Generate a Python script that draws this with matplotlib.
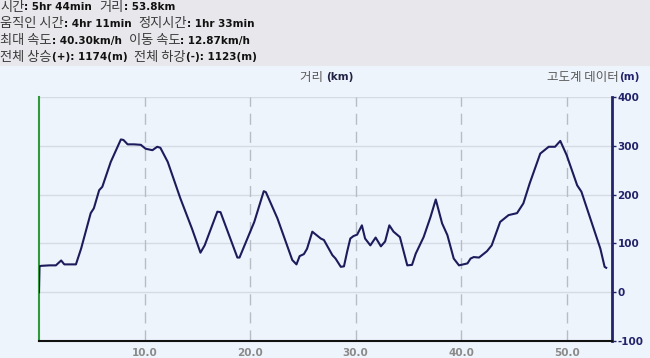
import matplotlib
matplotlib.use('Agg')
import matplotlib.pyplot as plt
import numpy as np

# elevation profile (km, m)
dist = [0.0, 0.05, 0.2, 1.0, 1.6, 2.1, 2.4, 3.5, 4.0, 4.9, 5.2, 5.7, 6.0, 6.8, 7.76, 8.0, 8.4,
        9.0, 9.65, 10.1, 10.75, 11.2, 11.5, 12.2, 13.4, 14.5, 15.3, 15.7, 16.9, 17.2, 18.8, 19.0,
        20.4, 21.3, 21.5, 22.6, 24.0, 24.4, 24.7, 25.1, 25.4, 25.9, 26.7, 27.0, 27.8, 28.1, 28.6,
        28.9, 29.2, 29.5, 29.8, 30.15, 30.6, 30.9, 31.4, 31.9, 32.4, 32.8, 33.2, 33.6, 34.2, 34.9,
        35.35, 35.7, 36.45, 37.1, 37.6, 38.2, 38.7, 39.3, 39.8, 40.6, 40.9, 41.2, 41.7, 42.45, 42.9,
        43.7, 44.5, 45.3, 45.9, 46.5, 47.5, 48.3, 48.9, 49.4, 50.0, 51.0, 51.4, 52.2, 53.2, 53.6, 53.75]
elev = [0, 53, 54, 55, 55, 65, 57, 57, 90, 162, 172, 209, 216, 267, 313, 312, 303,
        303, 302, 294, 291, 298, 296, 267, 192, 130, 81, 96, 165, 164, 71, 71,
        144, 207, 205, 151, 66, 57, 74, 78, 89, 124, 110, 107, 76, 69, 52,
        53, 83, 110, 115, 118, 137, 110, 96, 112, 94, 104, 137, 124, 113, 55,
        56, 79, 113, 154, 190, 141, 117, 69, 55, 59, 69, 72, 71, 84, 96,
        144, 158, 162, 182, 223, 284, 298, 298, 310, 281, 219, 206, 154, 89, 52, 50]

xticks = [10, 20, 30, 40, 50]
yticks = [-100, 0, 100, 200, 300, 400]

header = [
    [('시간', 'k'), (': 5hr 44min  ', 'v'), ('거리', 'k'), (': 53.8km', 'v')],
    [('움직인 시간', 'k'), (': 4hr 11min  ', 'v'), ('정지시간', 'k'), (': 1hr 33min', 'v')],
    [('최대 속도', 'k'), (': 40.30km/h  ', 'v'), ('이동 속도', 'k'), (': 12.87km/h', 'v')],
    [('전체 상승', 'k'), ('(+): 1174(m)  ', 'v'), ('전체 하강', 'k'), ('(-): 1123(m)', 'v')],
]

W, H = 650, 358
fig = plt.figure(figsize=(W / 100, H / 100), dpi=100)
fig.patch.set_facecolor('#eef4fc')
# grey header band
fig.patches.append(plt.Rectangle((0, 1 - 66 / H), 1, 66 / H, transform=fig.transFigure,
                                 facecolor='#e8e8ec', edgecolor='none', zorder=0))

ax = fig.add_axes([39 / W, 17 / H, (612 - 39) / W, (341 - 97) / H])
ax.set_facecolor('#eef4fc')
ax.plot(dist, elev, color='#1c1c5c', lw=1.5, zorder=3)
ax.set_xlim(0, 54.3)
ax.set_ylim(-100, 400)

ax.set_xticks(xticks)
ax.set_xticklabels([f'{t:.1f}' for t in xticks], color='#8a8a8a', fontweight='bold', fontsize=7.5)
ax.set_yticks(yticks)
ax.yaxis.tick_right()
ax.set_yticklabels([str(t) for t in yticks], color='#23236b', fontweight='bold', fontsize=7.5)
ax.tick_params(axis='x', length=0, pad=5)
ax.tick_params(axis='y', length=3, width=1, color='#23236b', pad=1)

for t in [0, 100, 200, 300, 400]:
    ax.axhline(t, color='#d6dbe3', lw=1, zorder=1)
for t in xticks:
    ax.axvline(t, color='#b8bcc4', lw=1, ls=(0, (8, 5)), zorder=1)

ax.spines['top'].set_visible(False)
ax.spines['left'].set_color('#2e9a3a')
ax.spines['left'].set_linewidth(1.5)
ax.spines['right'].set_color('#23236b')
ax.spines['right'].set_linewidth(2)
ax.spines['bottom'].set_color('#111111')
ax.spines['bottom'].set_linewidth(1.5)

kfam = ['Noto Sans CJK KR', 'DejaVu Sans']
fig.canvas.draw()
renderer = fig.canvas.get_renderer()


def put_line(x0, y0, parts, ksize=9.5):
    x = x0
    for txt, kind in parts:
        if kind in ('k', 'n'):
            t = fig.text(x / W, 1 - y0 / H, txt, family=kfam, fontsize=ksize,
                         color='#3a3a3a' if kind == 'k' else '#5a5a5a', va='center', ha='left')
        else:
            t = fig.text(x / W, 1 - y0 / H, txt, family='DejaVu Sans', fontweight='bold',
                         fontsize=7.5, color=kind if kind.startswith('#') else '#111111',
                         va='center', ha='left')
        x += t.get_window_extent(renderer).width
    return x


for i, parts in enumerate(header):
    put_line(0, 7 + i * 16.8, parts)

put_line(300, 77, [('거리 ', 'n'), ('(km)', '#222244')], ksize=9)
put_line(547, 77, [('고도계 데이터', 'n'), ('(m)', '#23236b')], ksize=9)

fig.savefig('out.png', dpi=100, facecolor=fig.get_facecolor())
